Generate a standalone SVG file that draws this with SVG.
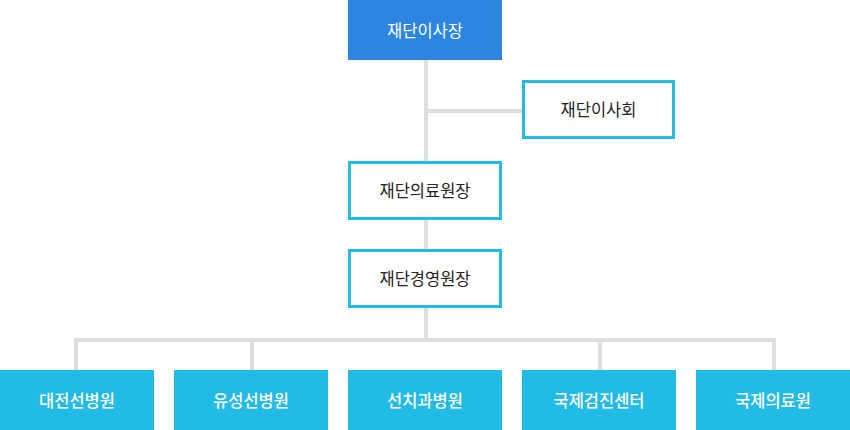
<svg xmlns="http://www.w3.org/2000/svg" width="850" height="430" viewBox="0 0 850 430">
<style>
.ln{stroke:#dedede;stroke-width:4;fill:none}
.ob{fill:#ffffff;stroke:#22bbe6;stroke-width:3}
.t{font-family:"Noto Sans CJK KR","Noto Sans",sans-serif;font-size:16.5px;text-anchor:middle;dominant-baseline:central}
.dk{fill:#222222}
.wt{fill:#ffffff}
.bw{font-weight:500}
.cb{fill:#22bbe6}
</style>
<rect width="850" height="430" fill="#ffffff"/>
<g id="connectors">
<line class="ln" x1="426" y1="60" x2="426" y2="161"/>
<line class="ln" x1="426" y1="111" x2="522" y2="111"/>
<line class="ln" x1="426" y1="220" x2="426" y2="249"/>
<line class="ln" x1="426" y1="308" x2="426" y2="340"/>
<polyline class="ln" points="76,370 76,340 774,340 774,370"/>
<line class="ln" x1="252" y1="340" x2="252" y2="370"/>
<line class="ln" x1="600" y1="340" x2="600" y2="370"/>
</g>
<g id="n-chairman">
<rect x="348" y="0" width="154" height="60" fill="#2b85e1"/>
<text class="t wt" x="425" y="29.5">재단이사장</text>
</g>
<g id="n-board">
<rect class="ob" x="523.5" y="81.5" width="150" height="56"/>
<text class="t dk" x="598.5" y="109">재단이사회</text>
</g>
<g id="n-medical">
<rect class="ob" x="349.5" y="162.5" width="151" height="56"/>
<text class="t dk" x="425" y="190">재단의료원장</text>
</g>
<g id="n-management">
<rect class="ob" x="349.5" y="250.5" width="151" height="56"/>
<text class="t dk" x="425" y="278">재단경영원장</text>
</g>
<g id="n-daejeon">
<rect class="cb" x="0" y="370" width="154" height="60"/>
<text class="t wt bw" x="77" y="399.5">대전선병원</text>
</g>
<g id="n-yuseong">
<rect class="cb" x="174" y="370" width="154" height="60"/>
<text class="t wt bw" x="251" y="399.5">유성선병원</text>
</g>
<g id="n-seonchi">
<rect class="cb" x="348" y="370" width="154" height="60"/>
<text class="t wt bw" x="425" y="399.5">선치과병원</text>
</g>
<g id="n-checkup">
<rect class="cb" x="522" y="370" width="154" height="60"/>
<text class="t wt bw" x="599" y="399.5">국제검진센터</text>
</g>
<g id="n-intl">
<rect class="cb" x="696" y="370" width="154" height="60"/>
<text class="t wt bw" x="773" y="399.5">국제의료원</text>
</g>
</svg>
